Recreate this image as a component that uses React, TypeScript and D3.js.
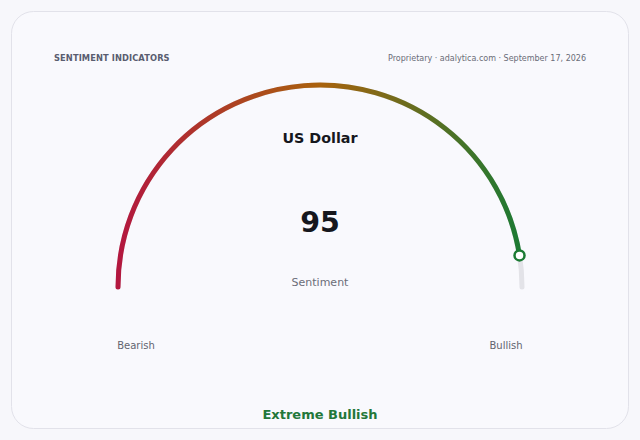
import React, { useEffect, useRef } from "react";
import * as d3 from "d3";

const title = "SENTIMENT INDICATORS";
const source = "Proprietary · adalytica.com · September 17, 2026";
const assetName = "US Dollar";
const sentimentValue = 95;
const valueDomain = [0, 100];
const scaleLabels = ["Bearish", "Bullish"];
const verdict = "Extreme Bullish";
const gradientStops = [
  { offset: "0%", color: "#b3173f" },
  { offset: "50%", color: "#a9620d" },
  { offset: "100%", color: "#1b7a33" },
];

const W = 640;
const H = 440;

export default function App() {
  const ref = useRef<SVGSVGElement>(null);

  useEffect(() => {
    if (!ref.current) return;
    const svg = d3.select(ref.current);
    svg.selectAll("*").remove();

    const font = "DejaVu Sans, Verdana, sans-serif";
    const cx = 320;
    const cy = 287;
    const r = 202;

    // card
    svg.append("rect").attr("width", W).attr("height", H).attr("fill", "#f7f7fb");
    svg.append("rect")
      .attr("x", 11.5).attr("y", 11.5)
      .attr("width", 617).attr("height", 417)
      .attr("rx", 22)
      .attr("fill", "#f9f9fd")
      .attr("stroke", "#e2e2ea")
      .attr("stroke-width", 1);

    // header
    svg.append("text")
      .attr("x", 54).attr("y", 61)
      .attr("font-family", font).attr("font-size", 8.3).attr("font-weight", "bold")
      .attr("letter-spacing", 0.1)
      .attr("fill", "#5a5d70")
      .text(title);
    svg.append("text")
      .attr("x", 586).attr("y", 61)
      .attr("text-anchor", "end")
      .attr("font-family", font).attr("font-size", 8)
      .attr("fill", "#6a6c78")
      .text(source);

    const angle = d3.scaleLinear()
      .domain(valueDomain)
      .range([-Math.PI / 2, Math.PI / 2]);

    const defs = svg.append("defs");
    const grad = defs.append("linearGradient")
      .attr("id", "gaugeGrad")
      .attr("gradientUnits", "userSpaceOnUse")
      .attr("x1", cx - r).attr("y1", 0)
      .attr("x2", cx + r).attr("y2", 0);
    grad.selectAll("stop")
      .data(gradientStops)
      .enter()
      .append("stop")
      .attr("offset", d => d.offset)
      .attr("stop-color", d => d.color);

    const arcPath = (a0: number, a1: number) => {
      const p = d3.path();
      p.arc(cx, cy, r, a0 - Math.PI / 2, a1 - Math.PI / 2, false);
      return p.toString();
    };

    const g = svg.append("g");

    // track
    g.append("path")
      .attr("d", arcPath(angle(valueDomain[0]), angle(valueDomain[1])))
      .attr("fill", "none")
      .attr("stroke", "#e3e3e8")
      .attr("stroke-width", 5)
      .attr("stroke-linecap", "round");

    // value arc
    g.append("path")
      .attr("d", arcPath(angle(valueDomain[0]), angle(sentimentValue)))
      .attr("fill", "none")
      .attr("stroke", "url(#gaugeGrad)")
      .attr("stroke-width", 5)
      .attr("stroke-linecap", "round");

    const a = angle(sentimentValue);
    g.append("circle")
      .attr("cx", cx + r * Math.sin(a))
      .attr("cy", cy - r * Math.cos(a))
      .attr("r", 5)
      .attr("fill", "#ffffff")
      .attr("stroke", "#1b7a33")
      .attr("stroke-width", 2.5);

    // centre texts
    svg.append("text")
      .attr("x", cx).attr("y", 143)
      .attr("text-anchor", "middle")
      .attr("font-family", font).attr("font-size", 14.3).attr("font-weight", "bold")
      .attr("fill", "#16171d")
      .text(assetName);
    svg.append("text")
      .attr("x", cx).attr("y", 232)
      .attr("text-anchor", "middle")
      .attr("font-family", font).attr("font-size", 28.5).attr("font-weight", "bold")
      .attr("fill", "#16171d")
      .text(String(sentimentValue));
    svg.append("text")
      .attr("x", cx).attr("y", 286)
      .attr("text-anchor", "middle")
      .attr("font-family", font).attr("font-size", 11)
      .attr("fill", "#6b6d78")
      .text("Sentiment");

    // scale end labels
    svg.selectAll("text.end")
      .data(scaleLabels)
      .enter()
      .append("text")
      .attr("class", "end")
      .attr("x", (_, i) => (i === 0 ? 136 : 506))
      .attr("y", 349)
      .attr("text-anchor", "middle")
      .attr("font-family", font).attr("font-size", 10)
      .attr("fill", "#62646f")
      .text(d => d);

    svg.append("text")
      .attr("x", cx).attr("y", 419)
      .attr("text-anchor", "middle")
      .attr("font-family", font).attr("font-size", 13).attr("font-weight", "bold")
      .attr("fill", "#23773a")
      .text(verdict);
  }, []);

  return (
    <svg
      ref={ref}
      width={W}
      height={H}
      viewBox={`0 0 ${W} ${H}`}
      style={{ position: "fixed", left: 0, top: 0, display: "block" }}
    />
  );
}
